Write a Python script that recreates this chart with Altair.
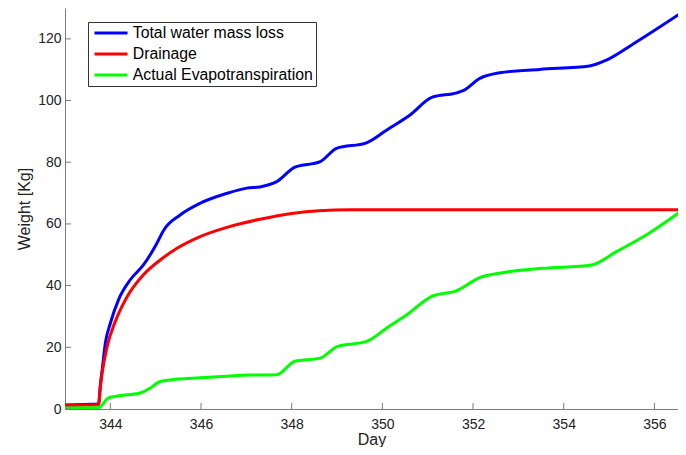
import altair as alt
import pandas as pd

# ---- data ----
total_day = [343.0, 343.74, 343.78, 343.82, 343.89, 344.0, 344.18, 344.44, 344.73, 345.03,
             345.17, 345.54, 345.98, 346.57, 347.01, 347.3, 347.67, 348.07, 348.63, 348.99,
             349.65, 350.09, 350.61, 351.09, 351.64, 351.78, 352.15, 352.59, 353.47, 354.57,
             354.94, 355.6, 356.7]
total_kg = [1.3, 1.6, 8.0, 12.7, 21.4, 27.8, 35.4, 41.9, 46.7, 53.8,
            57.8, 62.9, 66.7, 69.9, 71.6, 72.0, 73.7, 78.4, 80.2, 84.5,
            86.3, 90.4, 95.3, 101.0, 102.5, 103.2, 107.2, 109.0, 110.1, 111.2,
            113.1, 119.0, 129.5]

drain_day = [343.0, 343.74, 343.78, 343.82, 343.93, 344.11, 344.37, 344.73, 345.1, 345.47,
             345.98, 346.57, 347.3, 348.0, 348.6, 349.3, 356.7]
drain_kg = [1.2, 1.4, 7.0, 11.7, 20.3, 28.4, 36.4, 43.5, 48.3, 52.1,
            55.9, 58.9, 61.5, 63.4, 64.3, 64.6, 64.6]

et_day = [343.0, 343.74, 343.96, 344.19, 344.66, 344.88, 345.1, 345.47, 345.98, 346.57,
          347.08, 347.67, 348.07, 348.63, 349.01, 349.65, 350.09, 350.53, 351.09, 351.64,
          352.15, 352.62, 353.54, 354.61, 355.16, 355.82, 356.7]
et_kg = [0.3, 0.4, 3.6, 4.3, 5.2, 6.8, 8.9, 9.7, 10.1, 10.6,
         11.0, 11.1, 15.5, 16.5, 20.3, 21.9, 26.2, 30.5, 36.5, 38.4,
         42.6, 44.1, 45.6, 46.7, 51.0, 56.4, 65.3]

series_names = ["Total water mass loss", "Drainage", "Actual Evapotranspiration"]
series_colors = ["#0000ff", "#ff0000", "#00ff00"]
x_ticks = [344, 346, 348, 350, 352, 354, 356]
y_ticks = [0, 20, 40, 60, 80, 100, 120]
x_domain = [343, 356.52]
y_domain = [0, 130]

frames = []
for name, d, v in zip(series_names, [total_day, drain_day, et_day], [total_kg, drain_kg, et_kg]):
    frames.append(pd.DataFrame({"day": d, "kg": v, "series": name}))
df = pd.concat(frames, ignore_index=True)

FONT = "Liberation Sans"
AXC = "#7a7a7a"
TXT = "#222222"

x_scale = alt.Scale(domain=x_domain, nice=False, zero=False)
y_scale = alt.Scale(domain=y_domain, nice=False)

color = alt.Color(
    "series:N",
    scale=alt.Scale(domain=series_names, range=series_colors),
    legend=alt.Legend(
        orient="none", legendX=23, legendY=14, title=None,
        symbolType="M-0.8,0L5.2,0", symbolSize=121, symbolStrokeWidth=3,
        labelFont=FONT, labelFontSize=15.8, labelColor="#000000",
        padding=3, rowPadding=4, labelOffset=26, labelLimit=0,
        fillColor="white", strokeColor="#333333",
    ),
)

x_axis = alt.Axis(values=x_ticks, format="d", title="Day", labelPadding=8, titlePadding=0)
y_axis = alt.Axis(values=y_ticks, format="d", title="Weight [Kg]", labelPadding=4, titlePadding=5)

layers = []
for name in series_names:
    layers.append(
        alt.Chart(df).transform_filter(alt.datum.series == name)
        .mark_line(strokeWidth=3, clip=True, interpolate="monotone")
        .encode(
            x=alt.X("day:Q", scale=x_scale, axis=x_axis),
            y=alt.Y("kg:Q", scale=y_scale, axis=y_axis),
            color=color,
        )
    )

ytick = alt.Chart(pd.DataFrame({"v": y_ticks})).mark_rule(color=AXC, strokeWidth=1).encode(
    y=alt.Y("v:Q", scale=y_scale, axis=y_axis), x=alt.value(0), x2=alt.value(6)
)
xtick = alt.Chart(pd.DataFrame({"v": x_ticks})).mark_rule(color=AXC, strokeWidth=1).encode(
    x=alt.X("v:Q", scale=x_scale, axis=x_axis), y=alt.value(401), y2=alt.value(395)
)

chart = alt.layer(*layers, ytick, xtick).properties(
    width=613, height=401,
    autosize=alt.AutoSizeParams(type="none"),
    padding={"left": 57, "top": 0, "right": 0, "bottom": 38},
).configure_view(stroke=None).configure_axis(
    grid=False, ticks=False, tickSize=0, domainColor=AXC, domainWidth=1,
    labelFont=FONT, labelFontSize=14, labelColor=TXT,
    titleFont=FONT, titleFontSize=16, titleFontWeight="normal", titleColor=TXT,
)

chart.save("out.html", embed_options={"renderer": "svg", "actions": False})
